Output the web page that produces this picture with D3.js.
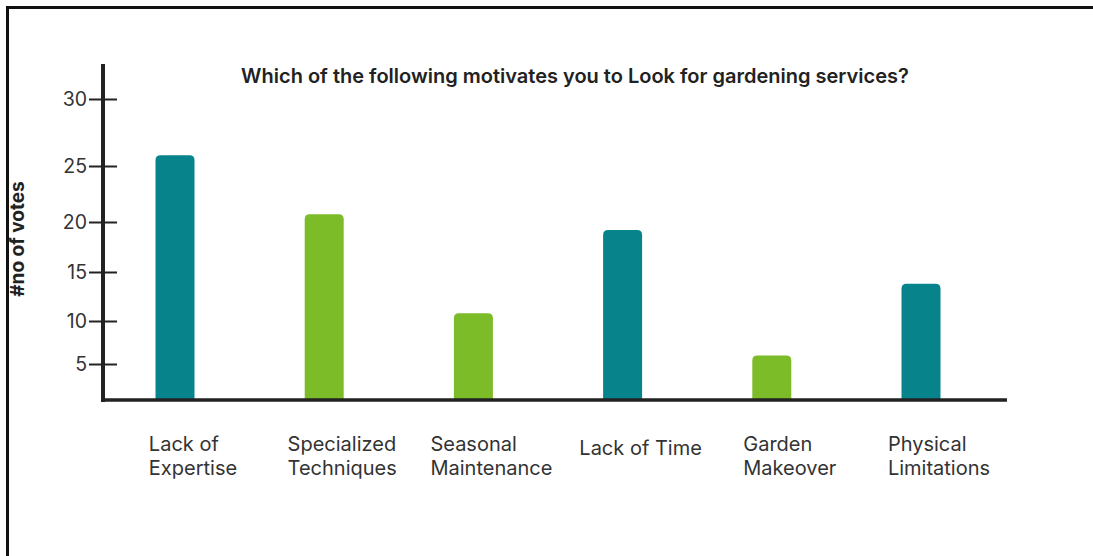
<!DOCTYPE html>
<html>
<head>
<meta charset="utf-8">
<script src="https://cdn.jsdelivr.net/npm/d3@7"></script>
<style>
  html, body { margin: 0; padding: 0; background: #fff; }
  svg { display: block; font-family: Inter, "Noto Sans", sans-serif; }
</style>
</head>
<body>
<div id="chart"></div>
<script>
// survey answers and vote counts
const categories = [
  ['Lack of', 'Expertise'],
  ['Specialized', 'Techniques'],
  ['Seasonal', 'Maintenance'],
  ['Lack of Time'],
  ['Garden', 'Makeover'],
  ['Physical', 'Limitations']
];
const votes = [25.8, 20.7, 10.8, 19.2, 6, 13.8];
const barColors = ['teal', 'green', 'green', 'teal', 'green', 'teal'];
const yTicks = [5, 10, 15, 20, 25, 30];

const title = 'Which of the following motivates you to Look for gardening services?';
const yLabel = '#no of votes';

const width = 1093;
const height = 556;

const palette = {teal: '#07838b', green: '#7bbc28'};

const svg = d3.select('#chart')
  .append('svg')
  .attr('width', width)
  .attr('height', height);

// frame round the picture (left and top edges only)
svg.append('path')
  .attr('d', 'M7.5,' + height + 'V7.5H' + width)
  .attr('fill', 'none')
  .attr('stroke', '#111')
  .attr('stroke-width', 3);

const keys = categories.map(c => c.join(' '));

// bar centres
const x = d3.scalePoint()
  .domain(keys)
  .range([175, 921]);

// the original axis is not evenly spaced, so map each tick to where it sits
const y = d3.scaleLinear()
  .domain([0, 5, 10, 15, 20, 25, 30])
  .range([400, 364, 321, 272, 222, 166, 99]);

const barWidth = 39;
const r = 5;

// bars with rounded top corners
svg.append('g')
  .selectAll('path')
  .data(votes)
  .enter().append('path')
  .attr('fill', (d, i) => palette[barColors[i]])
  .attr('d', (d, i) => {
    let x0 = x(keys[i]) - barWidth / 2;
    let x1 = x0 + barWidth;
    let top = y(d);
    let bottom = y(0);
    return 'M' + x0 + ',' + bottom +
      'V' + (top + r) +
      'Q' + x0 + ',' + top + ' ' + (x0 + r) + ',' + top +
      'H' + (x1 - r) +
      'Q' + x1 + ',' + top + ' ' + x1 + ',' + (top + r) +
      'V' + bottom + 'Z';
  });

// y axis
const yAxis = svg.append('g')
  .attr('transform', 'translate(103,0)')
  .call(d3.axisLeft(y).tickValues(yTicks).tickSize(0).tickPadding(16));
yAxis.select('.domain').remove();
yAxis.selectAll('text')
  .attr('font-family', 'Inter, sans-serif')
  .attr('font-size', 19.5)
  .attr('fill', '#333');
yAxis.selectAll('.tick').append('line')
  .attr('x1', -14)
  .attr('x2', 14)
  .attr('stroke', '#222')
  .attr('stroke-width', 2);

svg.append('line')
  .attr('x1', 103).attr('x2', 103)
  .attr('y1', 64).attr('y2', y(0) + 2)
  .attr('stroke', '#222')
  .attr('stroke-width', 4);

// x axis baseline
svg.append('line')
  .attr('x1', 101).attr('x2', 1007)
  .attr('y1', y(0)).attr('y2', y(0))
  .attr('stroke', '#222')
  .attr('stroke-width', 3.5);

// category labels: lines left aligned, block centred a little right of the bar
const labels = svg.append('g')
  .attr('font-size', 20)
  .attr('fill', '#333');

let label = labels.selectAll('text')
  .data(categories)
  .enter().append('text')
  .attr('y', d => d.length === 1 ? 455 : 451);

label.selectAll('tspan')
  .data(d => d)
  .enter().append('tspan')
  .attr('dy', (d, i) => i === 0 ? 0 : 23.5)
  .text(d => d);

label.each(function (d, i) {
  let spans = d3.select(this).selectAll('tspan');
  let w = d3.max(spans.nodes(), n => n.getComputedTextLength());
  spans.attr('x', x(keys[i]) + 18 - w / 2);
});

// title
svg.append('text')
  .attr('x', 575)
  .attr('y', 83)
  .attr('text-anchor', 'middle')
  .attr('font-size', 20)
  .attr('font-weight', 600)
  .attr('fill', '#222')
  .text(title);

// y axis title
svg.append('text')
  .attr('transform', 'translate(24,239) rotate(-90)')
  .attr('text-anchor', 'middle')
  .attr('font-size', 19)
  .attr('font-weight', 700)
  .attr('fill', '#222')
  .text(yLabel);
</script>
</body>
</html>
